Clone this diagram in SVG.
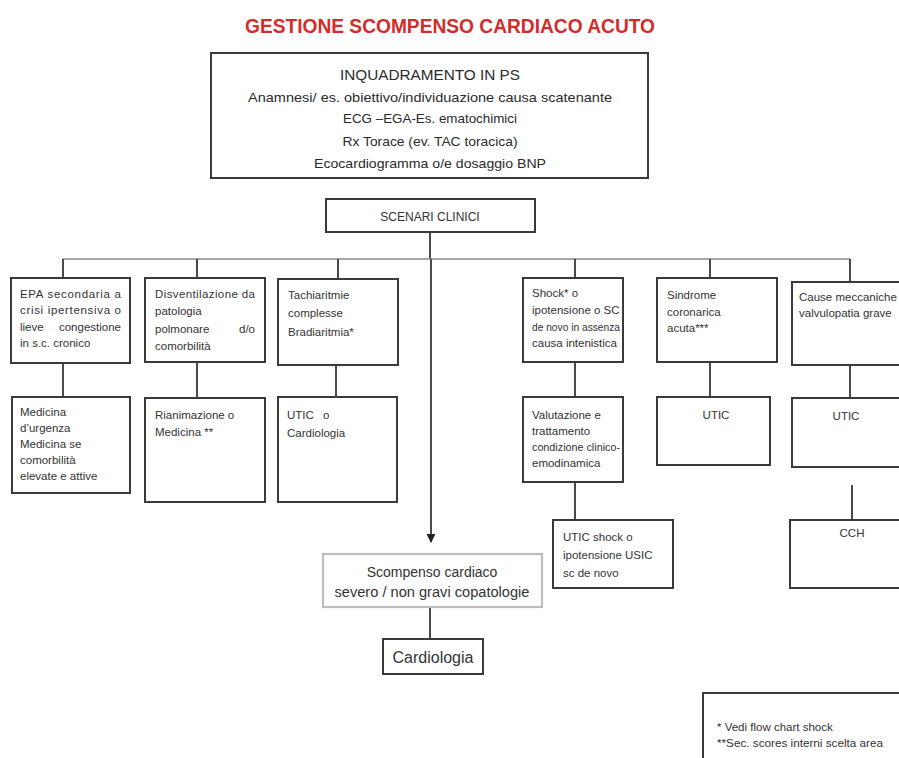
<svg xmlns="http://www.w3.org/2000/svg" width="899" height="758" viewBox="0 0 899 758">
  <style>
    .box { fill: #ffffff; stroke: #3a3a3a; stroke-width: 2; }
    .soft { fill: #ffffff; stroke: #bdbdbd; stroke-width: 2.2; }
    .t { font-family: "Liberation Sans", Arial, sans-serif; font-size: 11.5px; fill: #333333; }
    .hd { font-family: "Liberation Sans", Arial, sans-serif; font-size: 13px; fill: #2a2a2a; }
    .c { text-anchor: middle; }
    .e { text-anchor: end; }
    .link { fill: none; stroke: #4a4a4a; stroke-width: 2; }
    .bus { fill: none; stroke: #8a8a8a; stroke-width: 1.5; }
  </style>
  <defs>
    <marker id="arrow" viewBox="0 0 10 10" refX="9" refY="5" markerWidth="4.5" markerHeight="4.5" orient="auto" markerUnits="strokeWidth">
      <path d="M0,0 L10,5 L0,10 z" fill="#222222"/>
    </marker>
  </defs>

  <rect width="899" height="758" fill="#ffffff"/>

  <text x="450" y="33" style="font-family: 'Liberation Sans', Arial, sans-serif; font-size: 20px; font-weight: bold; fill: #d42b2b;" text-anchor="middle" textLength="410" lengthAdjust="spacingAndGlyphs">GESTIONE SCOMPENSO CARDIACO ACUTO</text>

  <!-- connectors -->
  <g id="connectors">
    <line class="link" x1="430" y1="232" x2="430" y2="259"/>
    <line class="bus" x1="63" y1="259" x2="850" y2="259"/>
    <line class="link" x1="431" y1="259" x2="431" y2="542" marker-end="url(#arrow)"/>
    <line class="link" x1="63" y1="259" x2="63" y2="278"/>
    <line class="link" x1="197" y1="259" x2="197" y2="278"/>
    <line class="link" x1="338" y1="259" x2="338" y2="279"/>
    <line class="link" x1="575" y1="259" x2="575" y2="278"/>
    <line class="link" x1="710" y1="259" x2="710" y2="278"/>
    <line class="link" x1="850" y1="259" x2="850" y2="282"/>
    <line class="link" x1="63" y1="363" x2="63" y2="397"/>
    <line class="link" x1="197" y1="362" x2="197" y2="398"/>
    <line class="link" x1="336" y1="365" x2="336" y2="397"/>
    <line class="link" x1="575" y1="362" x2="575" y2="397"/>
    <line class="link" x1="710" y1="362" x2="710" y2="397"/>
    <line class="link" x1="850" y1="365" x2="850" y2="398"/>
    <line class="link" x1="575" y1="482" x2="575" y2="520"/>
    <line class="link" x1="852" y1="485" x2="852" y2="520"/>
    <line class="link" x1="430" y1="607" x2="430" y2="639"/>
  </g>

  <g id="inquadramento">
    <rect class="box" x="211" y="53" width="437" height="125"/>
    <text class="hd c" x="430" y="80" style="font-size: 15px;" textLength="180" lengthAdjust="spacingAndGlyphs">INQUADRAMENTO IN PS</text>
    <text class="hd c" x="430" y="102" textLength="364" lengthAdjust="spacingAndGlyphs">Anamnesi/ es. obiettivo/individuazione causa scatenante</text>
    <text class="hd c" x="430" y="123" textLength="174" lengthAdjust="spacingAndGlyphs">ECG –EGA-Es. ematochimici</text>
    <text class="hd c" x="430" y="146" textLength="175" lengthAdjust="spacingAndGlyphs">Rx Torace (ev. TAC toracica)</text>
    <text class="hd c" x="430" y="168" textLength="232" lengthAdjust="spacingAndGlyphs">Ecocardiogramma o/e dosaggio BNP</text>
  </g>

  <g id="scenari">
    <rect class="box" x="326" y="199" width="209" height="33"/>
    <text class="t c" x="430" y="221" style="font-size: 12px;">SCENARI CLINICI</text>
  </g>

  <g id="epa">
    <rect class="box" x="11" y="278" width="119" height="85"/>
    <text class="t" x="20" y="298" textLength="101" lengthAdjust="spacing">EPA secondaria a</text>
    <text class="t" x="20" y="314" textLength="101" lengthAdjust="spacing">crisi ipertensiva o</text>
    <text class="t" x="20" y="331">lieve</text>
    <text class="t e" x="121" y="331">congestione</text>
    <text class="t" x="20" y="347">in s.c. cronico</text>
  </g>

  <g id="disventilazione">
    <rect class="box" x="145" y="278" width="120" height="84"/>
    <text class="t" x="155" y="298" textLength="100" lengthAdjust="spacing">Disventilazione da</text>
    <text class="t" x="155" y="315">patologia</text>
    <text class="t" x="155" y="333">polmonare</text>
    <text class="t e" x="255" y="333">d/o</text>
    <text class="t" x="155" y="350">comorbilità</text>
  </g>

  <g id="tachiaritmie">
    <rect class="box" x="278" y="279" width="120" height="86"/>
    <text class="t" x="288" y="299">Tachiaritmie</text>
    <text class="t" x="288" y="317">complesse</text>
    <text class="t" x="288" y="336">Bradiaritmia*</text>
  </g>

  <g id="shock">
    <rect class="box" x="523" y="278" width="100" height="84"/>
    <text class="t" x="532" y="297">Shock* o</text>
    <text class="t" x="532" y="314">ipotensione o SC</text>
    <text class="t" x="532" y="331" textLength="88" lengthAdjust="spacingAndGlyphs">de novo in assenza</text>
    <text class="t" x="532" y="347">causa intenistica</text>
  </g>

  <g id="sindrome">
    <rect class="box" x="657" y="278" width="120" height="84"/>
    <text class="t" x="667" y="299">Sindrome</text>
    <text class="t" x="667" y="316">coronarica</text>
    <text class="t" x="667" y="332">acuta***</text>
  </g>

  <g id="cause">
    <rect class="box" x="792" y="282" width="115" height="83"/>
    <text class="t" x="799" y="301">Cause meccaniche</text>
    <text class="t" x="799" y="317">valvulopatia grave</text>
  </g>

  <g id="medicina-urgenza">
    <rect class="box" x="12" y="397" width="118" height="96"/>
    <text class="t" x="20" y="416">Medicina</text>
    <text class="t" x="20" y="432">d’urgenza</text>
    <text class="t" x="20" y="448">Medicina se</text>
    <text class="t" x="20" y="464">comorbilità</text>
    <text class="t" x="20" y="480">elevate e attive</text>
  </g>

  <g id="rianimazione">
    <rect class="box" x="145" y="398" width="120" height="104"/>
    <text class="t" x="155" y="419">Rianimazione o</text>
    <text class="t" x="155" y="436">Medicina **</text>
  </g>

  <g id="utic-cardiologia">
    <rect class="box" x="278" y="397" width="119" height="105"/>
    <text class="t" x="287" y="419">UTIC</text>
    <text class="t" x="323" y="419">o</text>
    <text class="t" x="287" y="437">Cardiologia</text>
  </g>

  <g id="valutazione">
    <rect class="box" x="523" y="397" width="100" height="85"/>
    <text class="t" x="532" y="419">Valutazione e</text>
    <text class="t" x="532" y="435">trattamento</text>
    <text class="t" x="532" y="451" textLength="88" lengthAdjust="spacingAndGlyphs">condizione clinico-</text>
    <text class="t" x="532" y="467">emodinamica</text>
  </g>

  <g id="utic-sca">
    <rect class="box" x="657" y="397" width="113" height="68"/>
    <text class="t c" x="716" y="419">UTIC</text>
  </g>

  <g id="utic-mecc">
    <rect class="box" x="792" y="398" width="115" height="69"/>
    <text class="t c" x="846" y="420">UTIC</text>
  </g>

  <g id="utic-shock">
    <rect class="box" x="553" y="520" width="120" height="68"/>
    <text class="t" x="563" y="541">UTIC shock o</text>
    <text class="t" x="563" y="559">ipotensione USIC</text>
    <text class="t" x="563" y="577">sc de novo</text>
  </g>

  <g id="cch">
    <rect class="box" x="790" y="520" width="117" height="68"/>
    <text class="t c" x="852" y="537">CCH</text>
  </g>

  <g id="scompenso">
    <rect class="soft" x="323" y="554" width="219" height="53"/>
    <text class="t c" x="432" y="577" style="font-size: 14px;">Scompenso cardiaco</text>
    <text class="t c" x="432" y="597" style="font-size: 14px;" textLength="195" lengthAdjust="spacingAndGlyphs">severo / non  gravi copatologie</text>
  </g>

  <g id="cardiologia">
    <rect class="box" x="383" y="639" width="100" height="35"/>
    <text class="t c" x="433" y="663" style="font-size: 16px;">Cardiologia</text>
  </g>

  <g id="note">
    <path d="M703,760 L703,693 L905,693" fill="none" stroke="#3a3a3a" stroke-width="2"/>
    <text class="t" x="717" y="731" style="font-size: 11.5px;">* Vedi flow chart shock</text>
    <text class="t" x="717" y="747" style="font-size: 11.5px;" textLength="166" lengthAdjust="spacingAndGlyphs">**Sec. scores interni scelta area</text>
  </g>
</svg>
